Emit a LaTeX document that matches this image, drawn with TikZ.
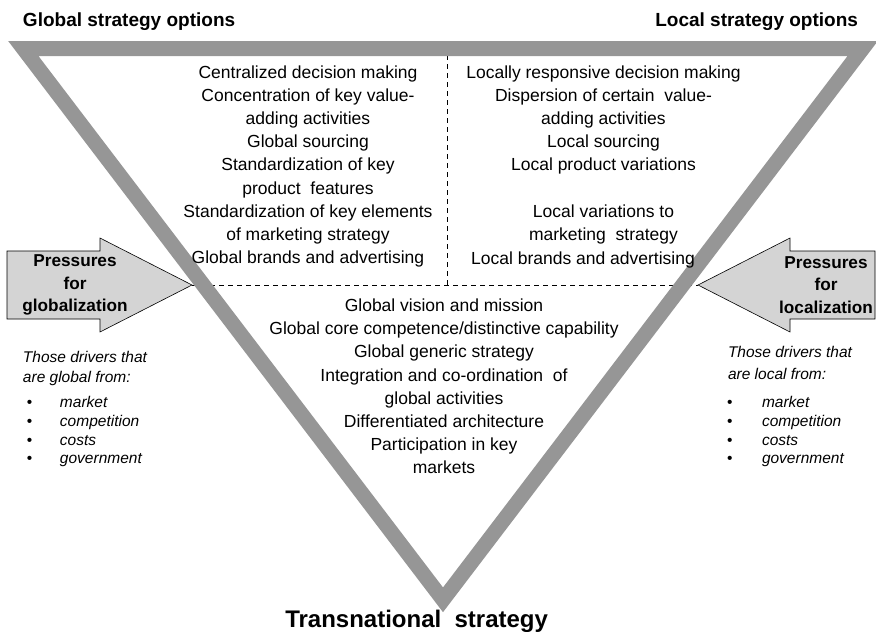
\documentclass[tikz,border=0pt]{standalone}
\usepackage{fontspec}
\setmainfont{Liberation Sans}
\usetikzlibrary{positioning}
\definecolor{bandgray}{RGB}{150,150,150}
\definecolor{arrowgray}{RGB}{212,212,212}

\begin{document}
\begin{tikzpicture}[x=1pt,y=-1pt,
  every node/.style={inner sep=0pt, outer sep=0pt},
  title/.style={font=\fontsize{19}{23}\selectfont\bfseries},
  options/.style={align=center, anchor=north, font=\fontsize{17.5}{23.2}\selectfont},
  pressure/.style={align=center, font=\fontsize{17.2}{22.5}\selectfont\bfseries},
  drivers/.style={align=left, anchor=north west, font=\fontsize{15.5}{20}\selectfont\itshape},
  bullets/.style={anchor=base west, font=\fontsize{15.5}{18.7}\selectfont},
  divider/.style={dash pattern=on 5pt off 4pt, line width=0.8pt},
  band/.style={draw=bandgray, line width=15pt, line join=miter},
  blockarrow/.style={draw=black, fill=arrowgray, line width=0.6pt}
  ]
  \useasboundingbox (0,0) rectangle (876,632);

  \coordinate (gtip) at (192,285);
  \coordinate (ltip) at (698,285);
  \coordinate (divtop) at (447,55);
  \coordinate (divbot) at (447,285);
  \draw[divider] (gtip) -- (ltip);
  \draw[divider] (divtop) -- (divbot);

  \draw[band] (23.3,48.5) -- (862.7,48.5) -- (443,599.8) -- cycle;

  \draw[blockarrow] (7,251) -- (100,251) -- (100,238) -- (gtip)
    -- (100,332) -- (100,319) -- (7,319) -- cycle;
  \draw[blockarrow] (875,251) -- (790,251) -- (790,238) -- (ltip)
    -- (790,332) -- (790,319) -- (875,319) -- cycle;

  \node[title, anchor=base west] (gtitle) at (23,26) {Global strategy options};
  \node[title, anchor=base east] (ltitle) at (858,26) {Local strategy options};

  \node[options] (global) at (308,65.5) {Centralized decision making\\
    Concentration of key value-\\adding activities\\Global sourcing\\
    Standardization of key\\product\ \ features\\
    Standardization of key elements\\of marketing strategy\\
    Global brands and advertising};
  \node[options] (local) at (603.5,65.5) {Locally responsive decision making\\
    Dispersion of certain\ \ value-\\adding activities\\Local sourcing\\
    Local product variations\\[23.2pt]
    Local variations to\\marketing\ \ strategy};
  \node[options, anchor=base] (localbrands) at (583,264.3)
    {Local brands and advertising};
  \node[options] (transnational) at (444,298.8) {Global vision and mission\\
    Global core competence/distinctive capability\\
    Global generic strategy\\Integration and co-ordination\ \ of\\
    global activities\\Differentiated architecture\\
    Participation in key\\markets};

  \node[pressure] (pglobal) at (75,285) {Pressures\\for\\globalization};
  \node[pressure] (plocal) at (826,285) {Pressures\\for\\localization};

  \node[drivers] (gdrivers) at (23,351.3) {Those drivers that\\are global from:};
  \node[drivers] (ldrivers) at (728,346) {Those drivers that\\[2.5pt]are local from:};
  \node[bullets] (glist) at (27,407.6) {\begin{tabular}[t]{@{}p{33pt}@{}l@{}}
    \textbullet & \textit{market}\\ \textbullet & \textit{competition}\\
    \textbullet & \textit{costs}\\ \textbullet & \textit{government}\end{tabular}};
  \node[bullets] (llist) at (727,407.6) {\begin{tabular}[t]{@{}p{35pt}@{}l@{}}
    \textbullet & \textit{market}\\ \textbullet & \textit{competition}\\
    \textbullet & \textit{costs}\\ \textbullet & \textit{government}\end{tabular}};

  \node[anchor=base east, font=\fontsize{24}{28}\selectfont\bfseries]
    (strategy) at (548,627) {Transnational\ \ strategy};
\end{tikzpicture}
\end{document}
